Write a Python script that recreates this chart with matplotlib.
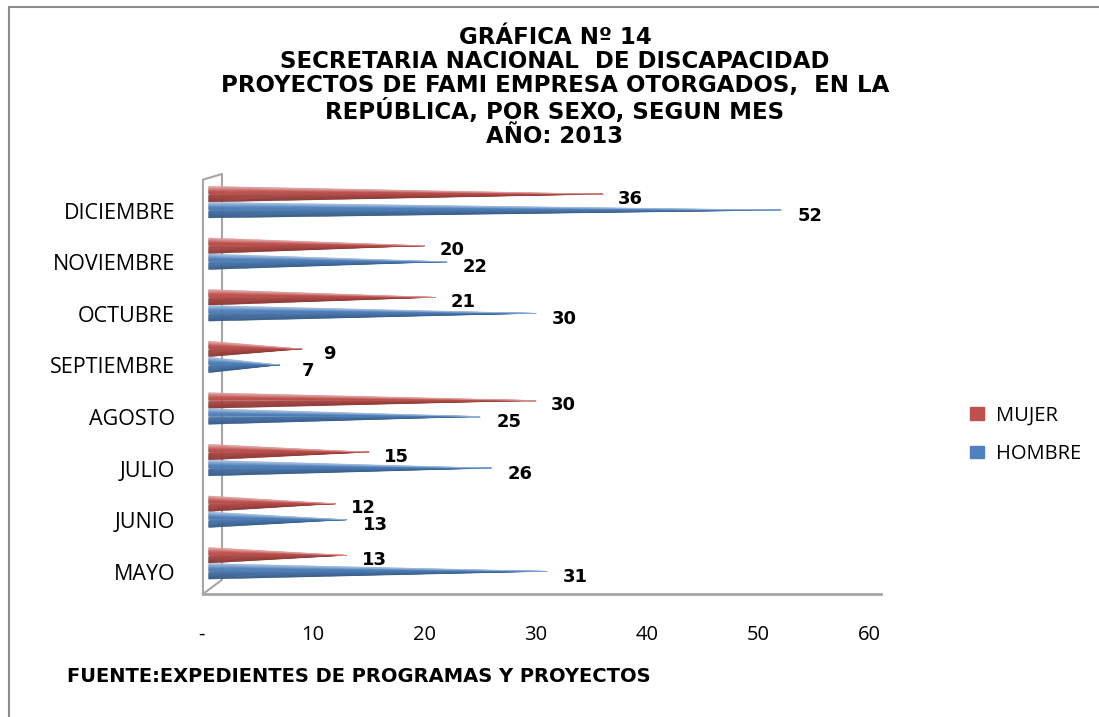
import numpy as np
import matplotlib
matplotlib.use("Agg")
import matplotlib.pyplot as plt
from matplotlib.patches import Patch, Rectangle
from matplotlib.colors import to_rgb

meses = ["MAYO", "JUNIO", "JULIO", "AGOSTO", "SEPTIEMBRE", "OCTUBRE", "NOVIEMBRE", "DICIEMBRE"]
mujer = [13, 12, 15, 30, 9, 21, 20, 36]
hombre = [31, 13, 26, 25, 7, 30, 22, 52]
xticks = [0, 10, 20, 30, 40, 50, 60]
xtick_labels = ["-", "10", "20", "30", "40", "50", "60"]

titulo = ("GRÁFICA Nº 14\nSECRETARIA NACIONAL  DE DISCAPACIDAD\n"
          "PROYECTOS DE FAMI EMPRESA OTORGADOS,  EN LA\n"
          "REPÚBLICA, POR SEXO, SEGUN MES\nAÑO: 2013")
fuente = "FUENTE:EXPEDIENTES DE PROGRAMAS Y PROYECTOS"

ROJO = "#C0504D"
AZUL = "#4F81BD"
LETRA = "Open Sans"

W, H = 1099, 717
fig = plt.figure(figsize=(W / 100, H / 100), dpi=100)

# borde exterior del grafico
fig.patches.append(Rectangle((9 / W, -0.1), 1.2, 1 - 7 / H + 0.1, transform=fig.transFigure,
                             fill=False, edgecolor="#8c8c8c", lw=1.5))

ax = fig.add_axes([201.5 / W, 1 - 594 / H, (881 - 201.5) / W, (594 - 174) / H])
ax.set_xlim(0, 61)
ax.set_ylim(-0.43, 7.71)
for s in ax.spines.values():
    s.set_visible(False)


def sombra(color, t):
    c = np.array(to_rgb(color))
    if t > 0.45:
        k = min((t - 0.45) * 0.9, 0.5)
        return c + (1 - c) * k
    k = (0.45 - t) * 0.2
    return c * (1 - k)


def cono(y, v, color, h=0.15, x0=0.65, n=16):
    for k in range(n):
        a = -1 + 2 * k / n
        b = -1 + 2 * (k + 1) / n
        t = (a + b) / 2
        c = sombra(color, t)
        ax.fill([x0, x0, v], [y + a * h, y + b * h, y], facecolor=c, edgecolor=c,
                lw=0.4, zorder=3)


# marco 3D
x_f = 0.13
x_b = 1.84
ax.plot([x_f, x_f, x_b, x_b, x_f], [-0.43, 7.6, 7.71, -0.155, -0.43], color="#a6a6a6", lw=1.5,
        clip_on=False, zorder=1)
ax.plot([x_f, 61], [-0.43, -0.43], color="#a6a6a6", lw=2, clip_on=False, zorder=1)

y = np.arange(len(meses))
for i in y:
    cono(i + 0.32, mujer[i], ROJO)
    cono(i + 0.01, hombre[i], AZUL)
    ax.text(mujer[i] + 2.5, i + 0.23, str(mujer[i]), ha="center", va="center",
            fontsize=13, fontweight="bold", family="DejaVu Sans", zorder=5)
    ax.text(hombre[i] + 2.6, i - 0.1, str(hombre[i]), ha="center", va="center",
            fontsize=13, fontweight="bold", family="DejaVu Sans", zorder=5)

ax.set_yticks(y)
ax.set_yticklabels(meses, family=LETRA, fontsize=15.5)
ax.set_xticks(xticks)
ax.set_xticklabels(xtick_labels, family=LETRA, fontsize=14.5)
ax.tick_params(axis="y", length=0, pad=19)
ax.tick_params(axis="x", length=0, pad=22)

fig.text(555 / W, 1 - 87 / H, titulo, ha="center", va="center", family="DejaVu Sans",
         fontweight="bold", fontsize=16.5, linespacing=1.08)
fig.text(67 / W, 1 - 677 / H, fuente, ha="left", va="center", family="DejaVu Sans",
         fontweight="bold", fontsize=14)

handles = [Patch(color=ROJO, label="MUJER"), Patch(color=AZUL, label="HOMBRE")]
fig.legend(handles=handles, loc="center left", bbox_to_anchor=(952 / W, 1 - 435 / H),
           frameon=False, prop={"family": LETRA, "size": 14.5}, handlelength=0.7,
           handleheight=0.6, handletextpad=0.6, labelspacing=0.9)

fig.savefig("out.png", dpi=100)
